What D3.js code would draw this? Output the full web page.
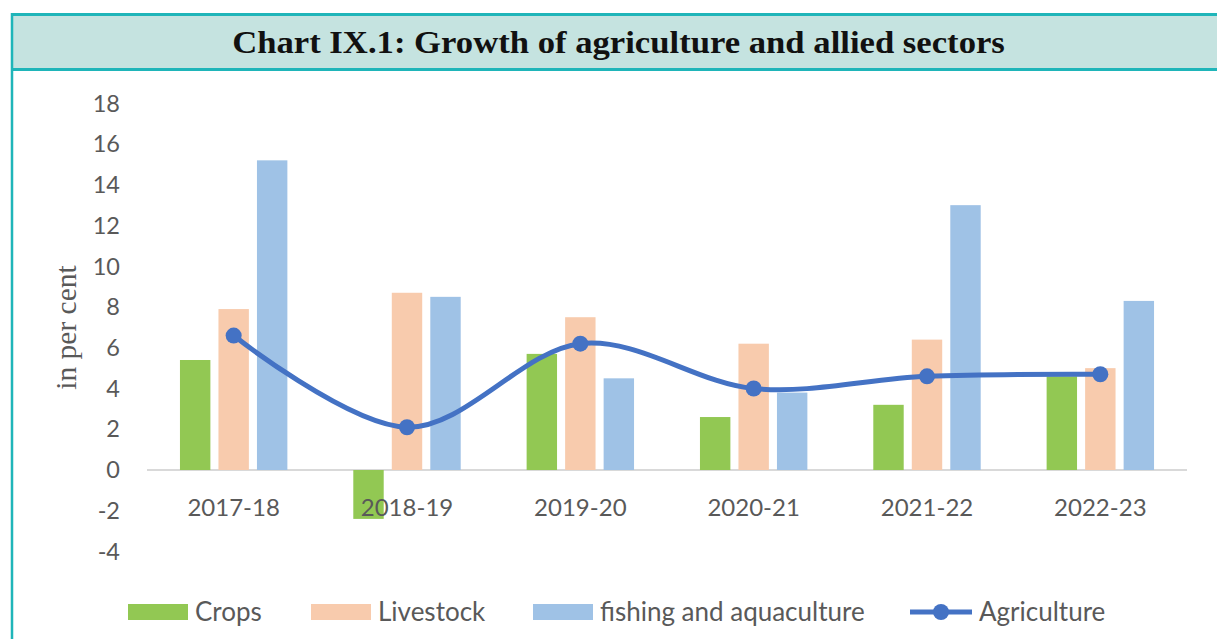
<!DOCTYPE html>
<html><head><meta charset="utf-8">
<script src="https://cdn.jsdelivr.net/npm/d3@7/dist/d3.min.js"></script>
<style>html,body{margin:0;padding:0;background:#fff;}svg{display:block;}</style>
</head><body>
<script>
const categories = ["2017-18","2018-19","2019-20","2020-21","2021-22","2022-23"];
const seriesNames = ["Crops","Livestock","fishing and aquaculture"];
const crops = [5.4, -2.4, 5.7, 2.6, 3.2, 4.6];
const livestock = [7.9, 8.7, 7.5, 6.2, 6.4, 5.0];
const fishing = [15.2, 8.5, 4.5, 3.8, 13.0, 8.3];
const agriculture = [6.6, 2.1, 6.2, 4.0, 4.6, 4.7];
const yTicks = [-4,-2,0,2,4,6,8,10,12,14,16,18];
const titleText = "Chart IX.1: Growth of agriculture and allied sectors";
const yTitle = "in per cent";
const lineName = "Agriculture";

const W = 1217, H = 639;
const colors = {"Crops":"#92c853","Livestock":"#f8cbad","fishing and aquaculture":"#9fc2e6"};
const lineColor = "#4472c4";
const teal = "#1fb5b9";
const textGray = "#595959";

const svg = d3.select("body").append("svg").attr("width", W).attr("height", H);

// frame + title band
svg.append("rect").attr("x",12).attr("y",14).attr("width",W-12).attr("height",56).attr("fill","#c5e3e0");
svg.append("line").attr("x1",11).attr("x2",W).attr("y1",14.5).attr("y2",14.5).attr("stroke",teal).attr("stroke-width",3);
svg.append("line").attr("x1",11).attr("x2",W).attr("y1",69.5).attr("y2",69.5).attr("stroke",teal).attr("stroke-width",3);
svg.append("line").attr("x1",12).attr("x2",12).attr("y1",13).attr("y2",H).attr("stroke",teal).attr("stroke-width",2.5);

const title = svg.append("text").attr("x",0).attr("y",0).attr("text-anchor","middle")
  .attr("font-family","'Liberation Serif', serif").attr("font-weight","bold").attr("font-size",31)
  .attr("fill","#111").text(titleText);
const tw = title.node().getComputedTextLength();
title.attr("transform",`translate(618.5,53) scale(${773/tw},1)`);

const x = d3.scaleBand().domain(categories).range([147,1187]);
const y = d3.scaleLinear().domain([-4,18]).range([551.5,103.3]);
const inner = d3.scaleBand().domain(seriesNames).range([-57.75,57.75]).paddingInner(0.21).paddingOuter(0.105);

// y tick labels
svg.append("g").selectAll("text").data(yTicks).join("text")
  .attr("x",120).attr("y",d=>y(d)).attr("dy","0.35em").attr("text-anchor","end")
  .attr("font-family","Lato, sans-serif").attr("font-size",23.5).attr("fill",textGray)
  .text(d=>d);

// zero axis
svg.append("line").attr("x1",147).attr("x2",1187).attr("y1",y(0)).attr("y2",y(0))
  .attr("stroke","#d9d9d9").attr("stroke-width",2);

// bars
const seriesData = [crops, livestock, fishing];
seriesNames.forEach((name,si)=>{
  svg.append("g").selectAll("rect").data(categories).join("rect")
    .attr("x",c=>x(c)+x.bandwidth()/2+inner(name))
    .attr("width",inner.bandwidth())
    .attr("y",(c,i)=>y(Math.max(0,seriesData[si][i])))
    .attr("height",(c,i)=>Math.abs(y(seriesData[si][i])-y(0)))
    .attr("fill",colors[name]);
});

// x tick labels
svg.append("g").selectAll("text").data(categories).join("text")
  .attr("x",c=>x(c)+x.bandwidth()/2).attr("y",516).attr("text-anchor","middle")
  .attr("font-family","Lato, sans-serif").attr("font-size",24).attr("fill",textGray)
  .text(c=>c);

// agriculture line
const line = d3.line().x((d,i)=>x(categories[i])+x.bandwidth()/2).y(d=>y(d)).curve(d3.curveCatmullRom.alpha(0));
svg.append("path").datum(agriculture).attr("d",line).attr("fill","none")
  .attr("stroke",lineColor).attr("stroke-width",5).attr("stroke-linecap","round");
svg.append("g").selectAll("circle").data(agriculture).join("circle")
  .attr("cx",(d,i)=>x(categories[i])+x.bandwidth()/2).attr("cy",d=>y(d)).attr("r",8)
  .attr("fill",lineColor);

// y title
svg.append("text").attr("transform","translate(76,327.5) rotate(-90)").attr("text-anchor","middle")
  .attr("font-family","'Liberation Serif', serif").attr("font-size",29.5).attr("fill",textGray).text(yTitle);

// legend
const legendItems = [...seriesNames, lineName];
const legendX = [128, 311, 533, 910];
const ly = 612;
const lg = svg.append("g");
legendItems.forEach((name,i)=>{
  const g = lg.append("g").attr("transform",`translate(${legendX[i]},${ly})`);
  if (i < 3) {
    g.append("rect").attr("x",0).attr("y",-8).attr("width",60).attr("height",16).attr("fill",colors[name]);
  } else {
    g.append("line").attr("x1",0).attr("x2",62).attr("y1",0).attr("y2",0).attr("stroke",lineColor).attr("stroke-width",5);
    g.append("circle").attr("cx",31).attr("cy",0).attr("r",8).attr("fill",lineColor);
  }
  g.append("text").attr("x", i<3 ? 67 : 69).attr("y",0).attr("dy","0.35em")
    .attr("font-family","Lato, sans-serif").attr("font-size",26).attr("fill",textGray).text(name);
});
</script>
</body></html>
